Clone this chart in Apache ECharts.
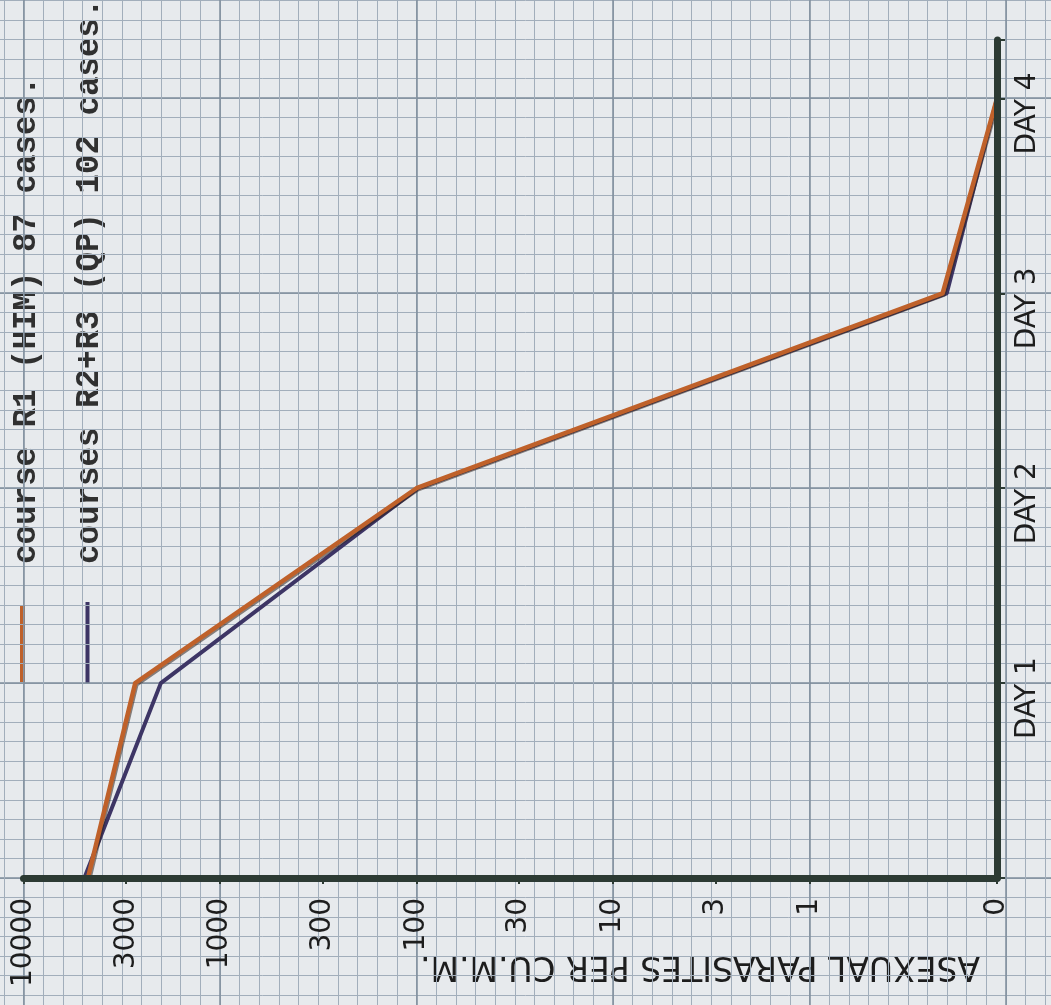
<!DOCTYPE html>
<html><head><meta charset="utf-8">
<script src="https://cdn.jsdelivr.net/npm/echarts@6/dist/echarts.min.js"></script>
<style>html,body{margin:0;padding:0;background:#e7eaed}#c{width:1051px;height:1005px}</style>
</head><body><div id="c"></div>
<script>
// ---- data ----
const days = [0, 1, 2, 3, 4];
const dayTickLabels = ['', 'DAY 1', 'DAY 2', 'DAY 3', 'DAY 4'];
const courseR1 = [4700, 2700, 100, 0.21, 0];        // course R1 (HIM)
const coursesR2R3 = [4900, 2000, 98, 0.20, 0];      // courses R2+R3 (QP)
const parasiteTicks = [10000, 3000, 1000, 300, 100, 30, 10, 3, 1, 0];
const seriesNames = ['course R1 (HIM) 87 cases.', 'courses R2+R3 (QP) 102 cases.'];
const axisTitle = 'ASEXUAL PARASITES PER CU.M.M.';
const ZERO_AT = 0.111; // position of the "0" baseline on the log scale

const toAxis = v => (v === 0 ? ZERO_AT : v);
const tickToAxis = v => (v === 0 ? ZERO_AT * 1.001 : v);

const ink = '#1d1d1d';
const axisInk = '#2c3a33';
const orange = '#bf612a';
const purple = '#3d3565';
const fineLine = {color: '#a2aebb', width: 1};
const majorLine = {color: '#7e8c9b', width: 1.5};

const hidden = {axisLine: {show: false}, axisTick: {show: false}, axisLabel: {show: false}};
function paperAxis(grid, min, max, lineStyle) {
  return Object.assign({type: 'value', gridIndex: grid, min: min, max: max, interval: 1,
    splitLine: {show: !!lineStyle, lineStyle: lineStyle || {}}}, hidden);
}

const chart = echarts.init(document.getElementById('c'), null, {renderer: 'canvas'});

const option = {
  backgroundColor: '#e7eaed',
  animation: false,
  textStyle: {fontFamily: 'DejaVu Sans'},
  grid: [
    {left: 23.5, right: 54, top: 40, bottom: 127},   // chart
    {left: 3.85, right: 5.7, top: 0, bottom: 0},     // fine vertical paper lines
    {left: 0, right: 0, top: 0.5, bottom: 10},       // fine horizontal paper lines
    {left: 23.5, right: 45, top: 0, bottom: 0},      // heavy vertical paper lines
    {left: 0, right: 0, top: 98, bottom: 127}        // heavy horizontal paper lines
  ],
  xAxis: [
    {
      type: 'log', gridIndex: 0, inverse: true, min: ZERO_AT, max: 10000,
      position: 'bottom', z: 5,
      axisLine: {show: true, onZero: false, lineStyle: {color: axisInk, width: 7, cap: 'round'}},
      axisTick: {show: true, length: 6, customValues: parasiteTicks.map(tickToAxis),
                 lineStyle: {color: axisInk, width: 2}},
      axisLabel: {show: true, rotate: 90, margin: 20, fontSize: 28, color: ink,
                  customValues: parasiteTicks.map(tickToAxis),
                  formatter: v => (v < 0.5 ? '0' : String(Math.round(v)))},
      splitLine: {show: false}
    },
    paperAxis(1, 0, 53, fineLine),
    paperAxis(2, 0, 1, null),
    paperAxis(3, 0, 5, majorLine),
    paperAxis(4, 0, 1, null)
  ],
  yAxis: [
    {
      type: 'value', gridIndex: 0, min: 0, max: 4.3, interval: 1, position: 'right', z: 5,
      axisLine: {show: true, onZero: false, lineStyle: {color: axisInk, width: 7, cap: 'round'}},
      axisTick: {show: true, length: 8, inside: false, lineStyle: {color: axisInk, width: 2}},
      axisLabel: {show: true, rotate: 90, margin: 17, fontSize: 28, color: ink,
                  padding: [0, 30, 0, 0],
                  formatter: v => dayTickLabels[days.indexOf(v)] || ''},
      splitLine: {show: false}
    },
    paperAxis(1, 0, 1, null),
    paperAxis(2, 0, 51, fineLine),
    paperAxis(3, 0, 1, null),
    paperAxis(4, 0, 4, majorLine)
  ],
  series: [
    {
      name: seriesNames[1], type: 'line', xAxisIndex: 0, yAxisIndex: 0,
      data: days.map((d, i) => [toAxis(coursesR2R3[i]), d]),
      symbol: 'none', z: 3,
      lineStyle: {color: purple, width: 4, join: 'round'}
    },
    {
      name: seriesNames[0], type: 'line', xAxisIndex: 0, yAxisIndex: 0,
      data: days.map((d, i) => [toAxis(courseR1[i]), d]),
      symbol: 'none', z: 4,
      lineStyle: {color: orange, width: 4.5, join: 'round',
                  shadowColor: 'rgba(50,35,30,0.55)', shadowOffsetX: 1.2, shadowOffsetY: 1.2, shadowBlur: 0}
    }
  ],
  graphic: [
    {type: 'line', shape: {x1: 22.5, y1: 605, x2: 22.5, y2: 682}, style: {stroke: orange, lineWidth: 5}},
    {type: 'line', shape: {x1: 87.5, y1: 602, x2: 87.5, y2: 684}, style: {stroke: purple, lineWidth: 4}},
    {type: 'text', x: 27, y: 564, rotation: Math.PI / 2,
     style: {text: seriesNames[0], font: 'bold 32.5px "Liberation Mono"', fill: '#303030',
             textAlign: 'left', textVerticalAlign: 'middle'}},
    {type: 'text', x: 90, y: 564, rotation: Math.PI / 2,
     style: {text: seriesNames[1], font: 'bold 32.5px "Liberation Mono"', fill: '#303030',
             textAlign: 'left', textVerticalAlign: 'middle'}},
    {type: 'text', x: 700, y: 966, rotation: Math.PI,
     style: {text: axisTitle, font: '33px "DejaVu Sans"', fill: ink,
             textAlign: 'center', textVerticalAlign: 'middle'}}
  ]
};
chart.setOption(option);
</script>
</body></html>
